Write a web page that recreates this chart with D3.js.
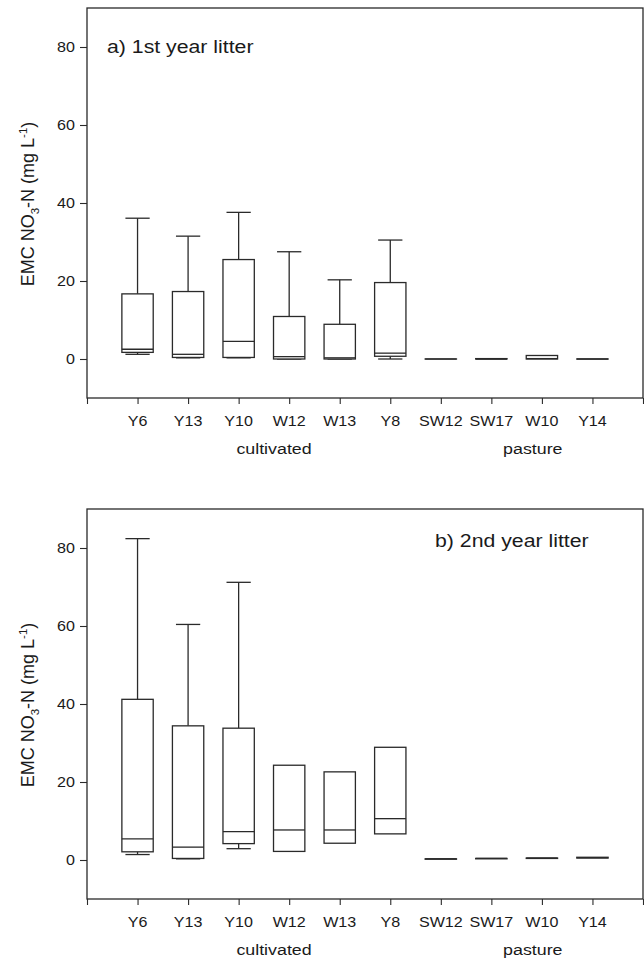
<!DOCTYPE html>
<html>
<head>
<meta charset="utf-8">
<script src="https://cdn.jsdelivr.net/npm/d3@7"></script>
<style>
  body { margin: 0; background: #fff; }
  text { font-family: "Liberation Sans", Arial, sans-serif; fill: #1a1a1a; }
</style>
</head>
<body>
<svg id="chart" width="644" height="962"></svg>
<script>
// Categories and labels
var sites = ["Y6", "Y13", "Y10", "W12", "W13", "Y8", "SW12", "SW17", "W10", "Y14"];
var yTicks = [0, 20, 40, 60, 80];
var groupNames = ["cultivated", "pasture"];
var groupPos = [3.7, 8.82];
var titles = ["a) 1st year litter", "b) 2nd year litter"];

// a) 1st year litter (mg/L)
var lowA  = [1.2, 0.3, 0.3, 0.0, 0.0, 0.0, null, null, null, null];
var q1A   = [1.7, 0.4, 0.4, 0.0, 0.0, 0.7, 0.0, 0.0, 0.0, 0.0];
var medA  = [2.5, 1.2, 4.5, 0.6, 0.3, 1.5, 0.0, 0.0, 0.1, 0.0];
var q3A   = [16.7, 17.3, 25.5, 10.9, 8.9, 19.6, 0.0, 0.1, 0.9, 0.0];
var highA = [36.1, 31.5, 37.6, 27.5, 20.3, 30.5, null, null, null, null];

// b) 2nd year litter (mg/L)
var lowB  = [1.4, 0.3, 2.9, null, null, null, null, null, null, null];
var q1B   = [2.1, 0.4, 4.2, 2.2, 4.3, 6.7, 0.2, 0.3, 0.4, 0.5];
var medB  = [5.4, 3.3, 7.3, 7.7, 7.7, 10.6, 0.3, 0.4, 0.5, 0.6];
var q3B   = [41.2, 34.4, 33.8, 24.3, 22.6, 28.9, 0.3, 0.4, 0.5, 0.7];
var highB = [82.4, 60.4, 71.2, null, null, null, null, null, null, null];

var panels = [
  {title: titles[0], low: lowA, q1: q1A, med: medA, q3: q3A, high: highA, off: 0, titleX: 107, titleY: 53},
  {title: titles[1], low: lowB, q1: q1B, med: medB, q3: q3B, high: highB, off: 501, titleX: 435, titleY: 547}
];

var ink = "#2a2a2a";
var stretch = 1.15;   // the scanned lettering is wider than Arial
var boxHalf = 0.31, capHalf = 0.24;

var svg = d3.select("#chart");

var x = d3.scaleLinear().domain([0, 11]).range([87, 643]);

function label(g, px, py, str, size, anchor) {
  return g.append("text")
    .attr("transform", "translate(" + px + "," + py + ") scale(" + stretch + ",1)")
    .attr("text-anchor", anchor)
    .style("font-size", size + "px")
    .text(str);
}

panels.forEach(function(p) {
  var top = 8 + p.off, bottom = 398 + p.off;
  var y = d3.scaleLinear().domain([-10, 90]).range([bottom, top]);
  var g = svg.append("g");

  // frame
  g.append("rect")
    .attr("x", x(0)).attr("y", top)
    .attr("width", x(11) - x(0)).attr("height", bottom - top)
    .attr("fill", "none").attr("stroke", ink).attr("stroke-width", 1.3);

  // y axis
  var yAxis = d3.axisLeft(y).tickValues(yTicks).tickSize(7).tickPadding(6);
  var ya = g.append("g").attr("transform", "translate(" + x(0) + ",0)").call(yAxis);
  ya.select(".domain").remove();
  ya.selectAll("line").attr("stroke", ink).attr("stroke-width", 1.1);
  ya.selectAll("text").remove();
  yTicks.forEach(function(t) {
    label(g, x(0) - 12, y(t) + 5, t, 14, "end");
  });

  // x axis ticks
  var xAxis = d3.axisBottom(x).tickValues(d3.range(0, 12)).tickSize(6).tickFormat("");
  var xa = g.append("g").attr("transform", "translate(0," + bottom + ")").call(xAxis);
  xa.select(".domain").remove();
  xa.selectAll("line").attr("stroke", ink).attr("stroke-width", 1.1);
  sites.forEach(function(s, i) {
    label(g, x(i + 1), bottom + 28, s, 14, "middle");
  });
  groupNames.forEach(function(n, i) {
    label(g, x(groupPos[i]), bottom + 56, n, 15.5, "middle");
  });

  // y title
  var yt = g.append("text")
    .attr("transform", "translate(34," + (y(40) + 1) + ") rotate(-90)")
    .attr("text-anchor", "middle")
    .style("font-size", "18px");
  yt.append("tspan").text("EMC NO");
  yt.append("tspan").attr("dy", 5).style("font-size", "11.5px").text("3");
  yt.append("tspan").attr("dy", -5).text("-N (mg L");
  yt.append("tspan").attr("dy", -7).style("font-size", "11.5px").text("-1");
  yt.append("tspan").attr("dy", 7).text(")");

  // panel title
  label(g, p.titleX, p.titleY, p.title, 18.5, "start");

  // boxes
  var bx = g.append("g").attr("fill", "none").attr("stroke", ink).attr("stroke-width", 1.3);
  sites.forEach(function(s, i) {
    var c = i + 1;
    if (p.high[i] != null) {
      bx.append("line").attr("x1", x(c)).attr("x2", x(c)).attr("y1", y(p.q3[i])).attr("y2", y(p.high[i]));
      bx.append("line").attr("x1", x(c - capHalf)).attr("x2", x(c + capHalf)).attr("y1", y(p.high[i])).attr("y2", y(p.high[i]));
    }
    if (p.low[i] != null) {
      bx.append("line").attr("x1", x(c)).attr("x2", x(c)).attr("y1", y(p.q1[i])).attr("y2", y(p.low[i]));
      bx.append("line").attr("x1", x(c - capHalf)).attr("x2", x(c + capHalf)).attr("y1", y(p.low[i])).attr("y2", y(p.low[i]));
    }
    bx.append("rect")
      .attr("x", x(c - boxHalf)).attr("width", x(c + boxHalf) - x(c - boxHalf))
      .attr("y", y(p.q3[i])).attr("height", Math.max(0.01, y(p.q1[i]) - y(p.q3[i])))
      .attr("fill", "#fff");
    bx.append("line").attr("x1", x(c - boxHalf)).attr("x2", x(c + boxHalf)).attr("y1", y(p.med[i])).attr("y2", y(p.med[i]));
  });
});
</script>
</body>
</html>
